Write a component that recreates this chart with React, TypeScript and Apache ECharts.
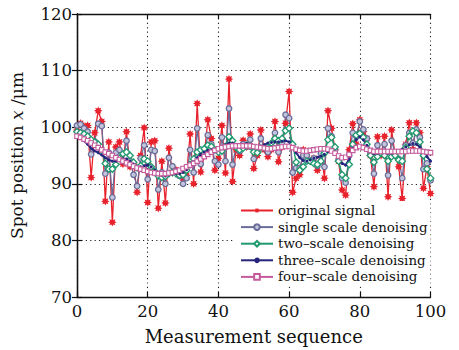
import React, { useEffect, useRef } from "react";
import * as echarts from "echarts";

const xTicks = [0, 20, 40, 60, 80, 100];
const yTicks = [70, 80, 90, 100, 110, 120];

const seriesNames = [
  "original signal",
  "single scale denoising",
  "two\u2013scale denoising",
  "three\u2013scale denoising",
  "four\u2013scale denoising",
];

const original = [
  99.5, 100.7, 100.1, 100.3, 91.1, 99.0, 102.9, 101.0, 86.9, 97.4,
  83.2, 96.5, 97.4, 93.5, 99.2, 93.0, 93.5, 88.5, 95.0, 99.9,
  86.7, 97.4, 97.6, 85.7, 94.0, 86.6, 96.3, 92.0, 92.5, 91.5,
  91.0, 91.5, 98.8, 90.0, 104.2, 92.1, 95.0, 101.3, 98.0, 92.4,
  94.5, 100.3, 91.9, 108.5, 90.4, 96.0, 95.0, 97.7, 96.5, 98.8,
  92.7, 95.0, 99.5, 96.0, 94.8, 96.0, 101.0, 93.9, 96.5, 100.7,
  106.3, 88.5, 91.0, 91.6, 96.0, 95.5, 94.0, 94.5, 92.4, 96.0,
  91.0, 102.9, 99.8, 96.0, 94.0, 88.9, 88.0, 96.0, 100.6, 97.0,
  101.3, 99.2, 98.0, 95.0, 89.5, 98.3, 95.0, 98.4, 87.7, 99.5,
  95.0, 93.0, 87.4, 97.0, 100.8, 96.0, 100.8, 99.0, 89.2, 93.0,
  88.3,
];

const singleScale = [
  100.3, 100.5, 99.8, 99.2, 95.2, 97.5, 100.6, 100.2, 91.8, 95.5,
  87.6, 95.5, 96.0, 94.0, 97.6, 94.0, 91.6, 89.6, 94.5, 96.8,
  90.8, 96.0, 95.8, 89.0, 92.0, 90.0, 94.6, 93.1, 92.2, 91.4,
  90.0, 91.0, 96.0, 92.0, 99.8, 93.5, 95.2, 98.6, 97.0, 94.0,
  93.4, 98.2, 94.0, 103.3, 93.4, 96.6, 95.8, 97.0, 96.6, 97.8,
  94.4, 95.6, 98.0, 96.3, 95.6, 96.6, 99.0, 95.6, 97.0, 102.2,
  101.6, 92.0, 92.8, 92.8, 95.0, 95.0, 94.0, 94.5, 93.2, 95.4,
  93.0, 99.8, 98.4, 96.0, 94.2, 91.0, 90.2, 95.0, 99.0, 98.4,
  101.0, 99.6, 98.0, 95.4, 91.8, 96.8, 95.5, 97.0, 91.5, 97.6,
  95.4, 94.4, 91.0, 96.8, 99.0, 97.2, 99.6, 98.2, 92.6, 93.6,
  90.6,
];

const twoScale = [
  99.2, 99.0, 98.8, 98.4, 97.8, 97.4, 97.0, 95.8, 93.6, 92.6,
  92.6, 93.4, 94.5, 95.3, 95.6, 95.0, 93.8, 92.8, 93.2, 94.4,
  94.0, 93.0, 92.2, 91.4, 91.1, 91.3, 91.8, 92.0, 91.8, 91.5,
  91.6, 92.4, 93.4, 94.4, 95.6, 96.0, 96.2, 96.8, 96.6, 96.0,
  95.6, 95.8, 96.6, 98.3, 97.6, 96.4, 96.0, 96.3, 96.8, 96.6,
  95.6, 95.5, 96.3, 96.4, 96.4, 97.2, 98.0, 97.6, 98.0, 99.4,
  99.8, 97.0, 93.8, 92.4, 93.0, 94.0, 94.0, 93.6, 93.4, 94.0,
  95.4, 97.8, 98.2, 96.5, 94.0, 91.6, 91.0, 93.4, 97.0, 98.6,
  98.9, 98.2, 97.0, 95.0, 93.8, 94.8, 95.5, 95.0, 94.0, 94.8,
  95.0, 94.2, 94.0, 96.4, 98.4, 99.3, 99.0, 97.4, 95.0, 92.6,
  91.0,
];

const threeScale = [
  98.6, 98.2, 97.6, 97.0, 96.3, 95.8, 95.5, 95.1, 94.6, 94.2,
  94.0, 94.0, 94.2, 94.4, 94.4, 94.0, 93.5, 93.0, 93.0, 93.2,
  93.3, 93.0, 92.4, 91.8, 91.5, 91.4, 91.6, 91.8, 91.8, 91.8,
  92.0, 92.5, 93.2, 93.9, 94.6, 95.2, 95.6, 95.9, 96.0, 96.1,
  96.3, 96.6, 96.9, 97.2, 97.2, 97.0, 96.9, 97.0, 97.1, 97.0,
  96.7, 96.5, 96.6, 96.9, 97.2, 97.3, 97.4, 97.4, 97.5, 97.6,
  97.4, 96.6, 95.5, 94.6, 94.1, 94.0, 94.2, 94.5, 94.7, 94.9,
  95.2, 95.7, 96.0, 95.6, 94.6, 93.6, 93.3, 94.4, 96.3, 97.8,
  98.3, 97.8, 96.8, 95.8, 95.3, 95.4, 95.7, 95.7, 95.4, 95.4,
  95.6, 95.8, 96.1, 96.5, 96.9, 97.1, 97.0, 96.5, 95.7, 94.8,
  94.0,
];

const fourScale = [
  98.4, 98.2, 97.9, 97.6, 97.2, 96.8, 96.4, 96.0, 95.6, 95.3,
  95.0, 94.6, 94.3, 94.0, 93.7, 93.4, 93.1, 92.8, 92.6, 92.4,
  92.2, 92.0, 91.9, 91.8, 91.8, 91.8, 91.9, 92.0, 92.2, 92.4,
  92.7, 93.0, 93.3, 93.6, 94.0, 94.4, 94.8, 95.2, 95.6, 95.9,
  96.2, 96.4, 96.5, 96.6, 96.7, 96.7, 96.7, 96.7, 96.7, 96.7,
  96.6, 96.5, 96.4, 96.3, 96.2, 96.2, 96.3, 96.4, 96.5, 96.6,
  96.6, 96.4, 96.1, 95.9, 95.8, 95.8, 95.9, 96.0, 96.1, 96.2,
  96.2, 96.1, 95.8, 95.4, 94.9, 94.6, 94.7, 95.2, 95.9, 96.4,
  96.6, 96.4, 96.1, 95.9, 95.7, 95.7, 95.7, 95.7, 95.7, 95.7,
  95.7, 95.7, 95.7, 95.7, 95.8, 95.8, 95.8, 95.8, 95.7, 95.6,
  95.5,
];

const STAR =
  "path://M0 -100 L22 -53 L71 -71 L53 -22 L100 0 L53 22 L71 71 L22 53 L0 100 L-22 53 L-71 71 L-53 22 L-100 0 L-53 -22 L-71 -71 L-22 -53 Z";

const FONT = "DejaVu Serif";

export default function App() {
  const ref = useRef<HTMLDivElement>(null);

  useEffect(() => {
    document.body.style.margin = "0";
    const chart = echarts.init(ref.current!, null, { renderer: "svg" });
    const toPairs = (arr: number[]) => arr.map((v, i) => [i, v]);
    const splitLine = {
      show: true,
      lineStyle: { color: "#222", type: [1.2, 3.2] as any, width: 1.1 },
    };
    const axisCommon = {
      axisLine: { show: true, lineStyle: { color: "#111", width: 1.3 } },
      axisTick: { show: true, inside: true, length: 5, lineStyle: { color: "#111", width: 1.2 } },
    };
    const option: any = {
      animation: false,
      backgroundColor: "#ffffff",
      grid: { left: 77, right: 28.5, top: 14, bottom: 53 },
      xAxis: [
        {
          type: "value",
          min: xTicks[0],
          max: xTicks[xTicks.length - 1],
          interval: 20,
          ...axisCommon,
          splitLine,
          axisLabel: { color: "#111", fontFamily: FONT, fontSize: 16.5, margin: 6 },
          name: "Measurement sequence",
          nameLocation: "middle",
          nameGap: 30,
          nameTextStyle: { color: "#111", fontFamily: FONT, fontSize: 18 },
        },
        {
          type: "value",
          position: "top",
          min: xTicks[0],
          max: xTicks[xTicks.length - 1],
          interval: 20,
          ...axisCommon,
          splitLine: { show: false },
          axisLabel: { show: false },
        },
      ],
      yAxis: [
        {
          type: "value",
          min: yTicks[0],
          max: yTicks[yTicks.length - 1],
          interval: 10,
          ...axisCommon,
          splitLine,
          axisLabel: { color: "#111", fontFamily: FONT, fontSize: 16.5, margin: 5 },
          name: "{n|Spot position }{i|x}{n| /\u03bcm}",
          nameLocation: "middle",
          nameGap: 52,
          nameRotate: 90,
          nameTextStyle: {
            rich: {
              n: { color: "#111", fontFamily: FONT, fontSize: 17 },
              i: { color: "#111", fontFamily: FONT, fontSize: 17, fontStyle: "italic" },
            },
          },
        },
        {
          type: "value",
          position: "right",
          min: yTicks[0],
          max: yTicks[yTicks.length - 1],
          interval: 10,
          ...axisCommon,
          splitLine: { show: false },
          axisLabel: { show: false },
        },
      ],
      legend: {
        orient: "vertical",
        left: 234,
        top: 201,
        itemWidth: 32,
        itemHeight: 7,
        itemGap: 3.6,
        padding: [3, 3, 3, 6],
        backgroundColor: "#ffffff",
        textStyle: { color: "#111", fontFamily: FONT, fontSize: 13.4, padding: [0, 0, 0, 0] },
        data: seriesNames,
      },
      series: [
        {
          name: seriesNames[0],
          type: "line",
          data: toPairs(original),
          symbol: STAR,
          symbolSize: 8.5,
          lineStyle: { color: "#e8222c", width: 1.3 },
          itemStyle: { color: "#e8222c" },
        },
        {
          name: seriesNames[1],
          type: "line",
          data: toPairs(singleScale),
          symbol: "circle",
          symbolSize: 5.5,
          lineStyle: { color: "#6a6c9a", width: 1.3 },
          itemStyle: { color: "#c4c6db", borderColor: "#6a6c9a", borderWidth: 1.3 },
        },
        {
          name: seriesNames[2],
          type: "line",
          data: toPairs(twoScale),
          symbol: "diamond",
          symbolSize: 6.5,
          lineStyle: { color: "#1f9a6e", width: 1.4 },
          itemStyle: { color: "#ffffff", borderColor: "#1f9a6e", borderWidth: 1.3 },
        },
        {
          name: seriesNames[3],
          type: "line",
          data: toPairs(threeScale),
          symbol: "circle",
          symbolSize: 3,
          lineStyle: { color: "#25247e", width: 2 },
          itemStyle: { color: "#25247e" },
        },
        {
          name: seriesNames[4],
          type: "line",
          data: toPairs(fourScale),
          symbol: "rect",
          symbolSize: 4.5,
          lineStyle: { color: "#c45a9c", width: 1.4 },
          itemStyle: { color: "#ffffff", borderColor: "#c45a9c", borderWidth: 1.1 },
        },
      ],
    };
    chart.setOption(option);
    return () => chart.dispose();
  }, []);

  return (
    <div
      ref={ref}
      style={{ position: "fixed", left: 0, top: 0, width: 459, height: 350 }}
    />
  );
}
